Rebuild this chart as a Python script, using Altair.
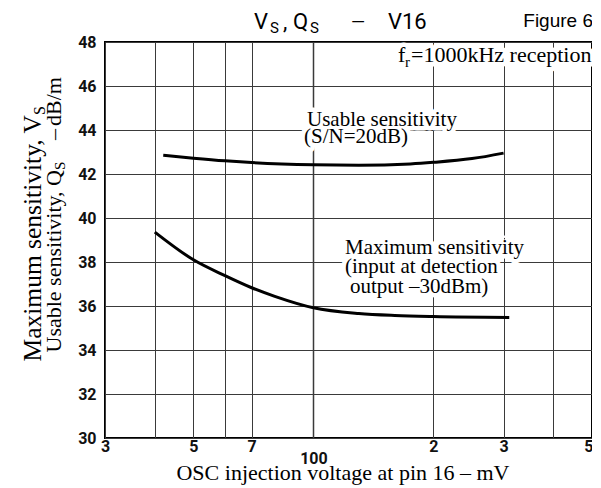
import altair as alt
import pandas as pd

# ---- data ----
usable_mv = [42, 50, 60, 70, 100, 130, 175, 200, 250, 300]
usable_db = [42.85, 42.72, 42.60, 42.52, 42.42, 42.40, 42.46, 42.53, 42.70, 42.95]
max_mv = [40, 50, 60, 70, 80, 100, 130, 160, 200, 310]
max_db = [39.36, 38.10, 37.38, 36.83, 36.44, 35.92, 35.66, 35.57, 35.52, 35.48]

x_grid = [30, 40, 50, 60, 70, 100, 200, 300, 400, 500]
y_ticks = [30, 32, 34, 36, 38, 40, 42, 44, 46, 48]

W, H = 487, 396
SERIF = "Liberation Serif"
SANS = "Liberation Sans"
DIN = "Roboto"

df = pd.concat([
    pd.DataFrame({"mv": usable_mv, "db": usable_db, "series": "usable"}),
    pd.DataFrame({"mv": max_mv, "db": max_db, "series": "max"}),
])

xs = alt.Scale(type="log", domain=[30, 500], nice=False)
ys = alt.Scale(domain=[30, 48], nice=False)

label_expr = ("datum.value==30?'3':datum.value==50?'5':datum.value==70?'7':"
              "datum.value==100?['','100']:datum.value==200?'2':"
              "datum.value==300?'3':datum.value==500?'5':''")

x_axis = alt.Axis(values=x_grid, labelExpr=label_expr, title=None, ticks=False,
                  domain=False, grid=True, gridColor="#3a3a3a",
                  gridWidth={"condition": {"test": "datum.value === 100", "value": 1.5}, "value": 1},
                  labelFont=DIN, labelFontWeight="bold", labelFontSize=16,
                  labelColor="#111", labelPadding=0, labelFlush=False,
                  labelAlign={"condition": {"test": "datum.value === 500", "value": "right"}, "value": "center"},
                  labelOffset={"condition": {"test": "datum.value === 500", "value": 1}, "value": 0},
                  labelOverlap=False, labelLineHeight=12, labelBaseline="top")
y_axis = alt.Axis(values=y_ticks, title=None, ticks=False, domain=False, grid=True,
                  gridColor="#3a3a3a", gridWidth=1, labelFont=DIN,
                  labelFontWeight="bold", labelFontSize=16, labelColor="#111",
                  labelPadding=9, labelOverlap=False)

lines = alt.Chart(df).mark_line(color="black", strokeWidth=3, interpolate="monotone").encode(
    x=alt.X("mv:Q", scale=xs, axis=x_axis),
    y=alt.Y("db:Q", scale=ys, axis=y_axis),
    detail="series:N",
)


def txt(s, x, y, size, font=SERIF, align="left", angle=0, dy=0, halo=False, weight="normal"):
    props = dict(align=align, baseline="alphabetic", font=font, fontSize=size,
                 fontWeight=weight, dy=dy)
    if angle:
        props["angle"] = angle
    if halo:
        props.update(color="white", stroke="white", strokeWidth=9, strokeJoin="round")
    else:
        props.update(color="black")
    return alt.Chart(pd.DataFrame({"t": [s]})).mark_text(**props).encode(
        x=alt.value(x), y=alt.value(y), text="t:N")


plot_notes = [
    ("Usable sensitivity", 202, 84, 21),
    ("(S/N=20dB)", 199, 101, 21),
    ("Maximum sensitivity", 240, 212, 21),
    ("(input at detection", 240, 231, 21),
    ("output \u201330dBm)", 245, 251, 21),
    ("=1000kHz reception", 306, 20, 22),
]

halos = [txt(s, x, y, z, halo=True) for s, x, y, z in plot_notes]
halos.append(txt("f", 293, 20, 22, halo=True))
notes = [txt(s, x, y, z) for s, x, y, z in plot_notes]
notes += [txt("f", 293, 20, 22), txt("r", 300, 25, 15)]

title = [
    txt("V", 149, -13, 22, font=DIN),
    txt("S", 165, -9, 15, font=DIN),
    txt(",", 178, -13, 22, font=DIN),
    txt("Q", 188, -13, 22, font=DIN),
    txt("S", 205, -9, 15, font=DIN),
    txt("\u2014", 246, -14, 18, font=DIN),
    txt("V16", 283, -13, 22, font=DIN),
    txt("Figure 6", 488, -15, 19, font=SANS, align="right"),
]

axis_titles = [
    txt("OSC injection voltage at pin 16  \u2013   mV", 238, 438, 22, align="center"),
    txt("Maximum sensitivity, V", -64, 73, 25.5, align="right", angle=270),
    txt("S", -64, 73, 16, align="left", angle=270, dy=4),
    txt("Usable sensitivity, Q", -44, 128, 22, align="right", angle=270),
    txt("S", -44, 128, 15, align="left", angle=270, dy=4),
    txt("\u2013", -44, 98, 22, align="left", angle=270),
    txt("dB/m", -44, 84, 22, align="left", angle=270),
]

chart = alt.layer(*halos, lines, *notes, *title, *axis_titles).properties(
    width=W, height=H,
    autosize=alt.AutoSizeParams(type="none"),
    padding={"left": 97, "top": 34, "right": 0, "bottom": 48},
).configure_view(stroke="black", strokeWidth=2)

chart.save("out.html", embed_options={"renderer": "svg", "actions": False})
